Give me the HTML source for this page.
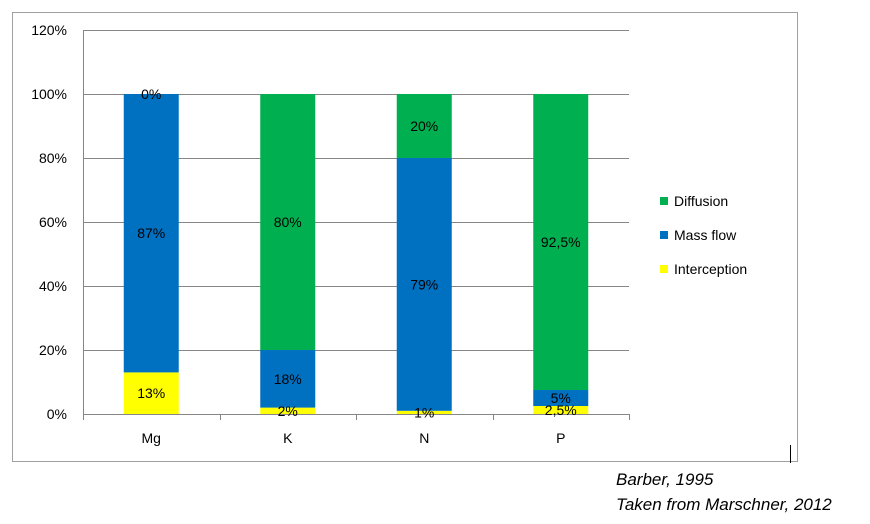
<!DOCTYPE html>
<html><head><meta charset="utf-8"><style>
body{margin:0;background:#fff;width:870px;height:519px;overflow:hidden;font-family:"Liberation Sans",sans-serif;}
svg text{font-family:"Liberation Sans",sans-serif;}
</style></head><body>
<svg id="c" width="870" height="519" xmlns="http://www.w3.org/2000/svg">
<rect x="12.5" y="12.5" width="785" height="449" fill="#fff" stroke="#a0a0a0"/>
<line x1="790.5" y1="445" x2="790.5" y2="463" stroke="#000"/>
<g id="grid"></g><g id="bars"></g><g id="legend"></g>
<text x="616" y="485" font-family="Liberation Serif" font-style="italic" font-size="17">Barber, 1995</text>
<text x="616" y="510" font-family="Liberation Serif" font-style="italic" font-size="17">Taken from Marschner, 2012</text>
</svg>
<script>
const categories=["Mg","K","N","P"];
const interception=[13,2,1,2.5];
const massFlow=[87,18,79,5];
const diffusion=[0,80,20,92.5];
const interceptionLabels=["13%","2%","1%","2,5%"];
const massFlowLabels=["87%","18%","79%","5%"];
const diffusionLabels=["0%","80%","20%","92,5%"];
const yTicks=[0,20,40,60,80,100,120];
const NS="http://www.w3.org/2000/svg";
const x0=83,x1=629,y0=414,yTop=30,yMax=120;
const y=v=>y0-(v/yMax)*(y0-yTop);
const step=(x1-x0)/categories.length;
const xc=i=>x0+step*(i+0.5);
const bw=55;
function mk(tag,attrs,parent){const e=document.createElementNS(NS,tag);for(const k in attrs)e.setAttribute(k,attrs[k]);parent.appendChild(e);return e;}
const grid=document.getElementById('grid');
yTicks.forEach(t=>{
  const l=mk('line',{x1:x0,x2:x1,y1:Math.round(y(t))+0.5,y2:Math.round(y(t))+0.5,stroke:t===0?'#868686':'#868686','stroke-width':1},grid);
  
  
  const tx=mk('text',{x:67,y:y(t)+5,'text-anchor':'end','font-size':14},grid);
  tx.textContent=t+'%';
  
  
});
const ax=mk('line',{x1:x0+0.5,x2:x0+0.5,y1:yTop,y2:y0+5,stroke:'#868686'},grid);


for(let i=0;i<=categories.length;i++){
  const t=mk('line',{x1:Math.round(x0+step*i)+0.5,x2:Math.round(x0+step*i)+0.5,y1:y0,y2:y0+6,stroke:'#868686'},grid);
  
  
}
const bars=document.getElementById('bars');
const series=[[interception,'#ffff00',interceptionLabels,'interception'],[massFlow,'#0070c0',massFlowLabels,'mass-flow'],[diffusion,'#00b050',diffusionLabels,'diffusion']];
categories.forEach((c,i)=>{
  let base=0;
  series.forEach(([vals,col,labs,nm])=>{
    const v=vals[i];
    const r=mk('rect',{x:xc(i)-bw/2,y:y(base+v),width:bw,height:y(base)-y(base+v),fill:col},bars);
    
    
    base+=v;
  });
  base=0;
  series.forEach(([vals,col,labs,nm])=>{
    const v=vals[i];
    const t=mk('text',{x:xc(i),y:(y(base)+y(base+v))/2+5,'text-anchor':'middle','font-size':14},bars);
    t.textContent=labs[i];
    
    
    base+=v;
  });
  const xl=mk('text',{x:xc(i),y:443,'text-anchor':'middle','font-size':14},bars);
  xl.textContent=c;
  
  
});
const lg=document.getElementById('legend');
[['Diffusion','#00b050',201],['Mass flow','#0070c0',235],['Interception','#ffff00',269]].forEach(([n,col,yy])=>{
  const r=mk('rect',{x:660,y:yy-4,width:8,height:8,fill:col},lg);
  
  
  const t=mk('text',{x:674,y:yy+5,'font-size':14},lg);
  t.textContent=n;
  
  
});
</script>
</body></html>
